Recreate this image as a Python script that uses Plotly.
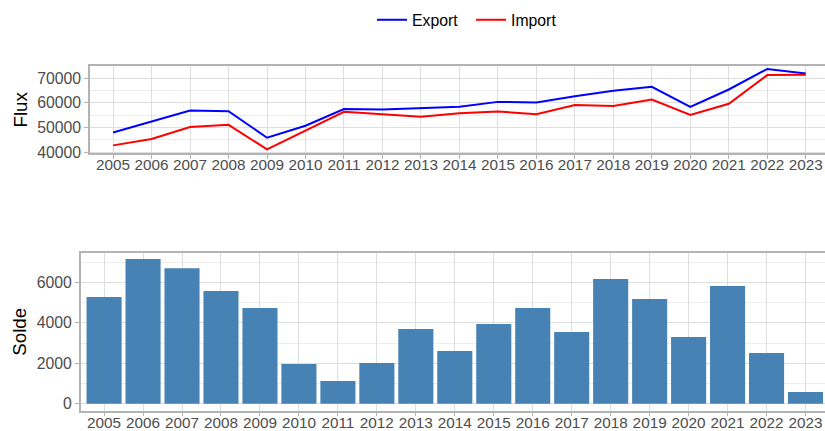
import plotly.graph_objects as go

years = [str(y) for y in range(2005, 2024)]
export_vals = [47970, 52450, 56890, 56620, 45810, 50700, 57500, 57350, 58000,
               58400, 60400, 60140, 62700, 64900, 66550, 58400, 65450, 73800, 72000]
import_vals = [42700, 45300, 50200, 51050, 41080, 48750, 56380, 55340, 54310,
               55800, 56460, 55410, 59160, 58740, 61380, 55100, 59630, 71300, 71420]
solde_vals = [5270, 7150, 6700, 5570, 4730, 1960, 1120, 2010, 3690,
              2600, 3940, 4730, 3540, 6160, 5170, 3300, 5820, 2500, 580]

W, H = 825, 431
FONT = "Liberation Sans, Arial, sans-serif"
GRID = "#DEDEDE"
MINOR = "#EDEDED"
BORDER = "#B3B3B3"
TICKC = "#4D4D4D"

fig = go.Figure()
fig.add_trace(go.Scatter(x=years, y=export_vals, mode="lines", name="Export",
                         line=dict(color="#0000FF", width=2), xaxis="x", yaxis="y"))
fig.add_trace(go.Scatter(x=years, y=import_vals, mode="lines", name="Import",
                         line=dict(color="#FF0000", width=2), xaxis="x", yaxis="y"))
fig.add_trace(go.Bar(x=years, y=solde_vals, name="Solde", showlegend=False,
                     marker=dict(color="#4682B4", line=dict(width=0)),
                     xaxis="x2", yaxis="y2"))

def xax(left, anchor):
    return dict(domain=[left / W, 1], anchor=anchor, type="category",
                range=[-0.6, 18.5], showgrid=True, gridcolor=GRID, gridwidth=1.2,
                showline=True, linecolor=BORDER, linewidth=1.5, mirror=True,
                ticks="outside", ticklen=4, tickwidth=1, tickcolor=BORDER,
                tickfont=dict(family=FONT, size=15.3, color=TICKC),
                ticklabelstandoff=-7,
                zeroline=False, fixedrange=True, automargin=False)

def yax(top_px, bot_px, anchor, rng, dtick, minor_dtick):
    return dict(domain=[1 - bot_px / H, 1 - top_px / H], anchor=anchor,
                range=rng, dtick=dtick, showgrid=True, gridcolor=GRID, gridwidth=1.2,
                minor=dict(showgrid=True, gridcolor=MINOR, gridwidth=0.8, dtick=minor_dtick),
                showline=True, linecolor=BORDER, linewidth=1.5, mirror=True,
                ticks="outside", ticklen=4, tickwidth=1, tickcolor=BORDER,
                tickfont=dict(family=FONT, size=15.8, color=TICKC),
                zeroline=False, fixedrange=True, tickformat="d", automargin=False)

fig.update_layout(
    template="none",
    width=W, height=H,
    margin=dict(l=0, r=0, t=0, b=0, pad=0, autoexpand=False),
    paper_bgcolor="white", plot_bgcolor="white",
    font=dict(family=FONT, color="black"),
    bargap=0.1,
    xaxis=xax(90, "y"),
    yaxis=yax(65.7, 153.3, "x", [39470, 75130], 10000, 5000),
    xaxis2=xax(80.7, "y2"),
    yaxis2=yax(252.7, 410.7, "x2", [-346, 7463], 2000, 1000),
    legend=dict(orientation="h", x=471 / W, xanchor="center",
                y=1 - 20 / H, yanchor="middle", entrywidth=54,
                font=dict(family=FONT, size=15.8, color="black"),
                bgcolor="rgba(0,0,0,0)"),
    showlegend=True,
    annotations=[
        dict(text="Flux", x=20 / W, y=1 - 109.5 / H, xref="paper", yref="paper",
             textangle=-90, showarrow=False, xanchor="center", yanchor="middle",
             font=dict(family=FONT, size=18.7, color="black")),
        dict(text="Solde", x=20 / W, y=1 - 331.7 / H, xref="paper", yref="paper",
             textangle=-90, showarrow=False, xanchor="center", yanchor="middle",
             font=dict(family=FONT, size=18.7, color="black")),
    ],
)

fig.write_html("out.html", config={"displayModeBar": False},
               post_script="document.body.style.margin='0';document.body.style.overflow='hidden';")
